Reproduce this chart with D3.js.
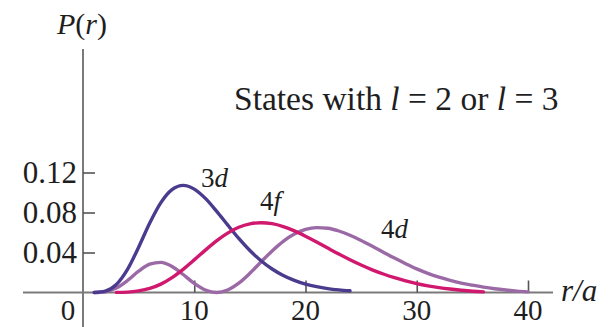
<!DOCTYPE html>
<html>
<head>
<meta charset="utf-8">
<script src="https://cdn.jsdelivr.net/npm/d3@7/dist/d3.min.js"></script>
<style>
  html, body { margin: 0; padding: 0; background: #fff; }
  svg { display: block; font-family: "Liberation Serif", "Times New Roman", serif; }
</style>
</head>
<body>
<svg id="chart" width="610" height="327"></svg>
<script>
// Radial probability densities P(r) for hydrogen states with l = 2 or l = 3
const r3d = [1,2,3,4,5,6,7,8,9,10,11,12,13,14,15,16,17,18,19,20,21,22,23,24];
const p3d = [0.0000,0.0014,0.0080,0.0231,0.0453,0.0695,0.0899,0.1029,0.1071,0.1034,0.0941,0.0814,
             0.0676,0.0541,0.0420,0.0318,0.0235,0.0170,0.0121,0.0084,0.0058,0.0039,0.0026,0.0017];

const r4f = [3,4,5,6,7,8,9,10,11,12,13,14,15,16,17,18,19,20,21,22,23,24,25,26,27,28,29,30,31,32,33,34,35,36];
const p4f = [0.0001,0.0004,0.0016,0.0041,0.0084,0.0149,0.0232,0.0326,0.0424,0.0516,0.0594,0.0652,
             0.0687,0.0698,0.0688,0.0659,0.0616,0.0563,0.0505,0.0444,0.0384,0.0328,0.0275,0.0227,
             0.0185,0.0148,0.0116,0.0088,0.0066,0.0049,0.0035,0.0023,0.0013,0.0006];

const r4d = [1,2,3,4,5,6,7,8,9,10,11,12,13,14,15,16,17,18,19,20,21,22,23,24,25,26,27,28,29,30,
             31,32,33,34,35,36,37,38,39,40];
const p4d = [0.0000,0.0008,0.0045,0.0120,0.0213,0.0284,0.0301,0.0260,0.0180,0.0091,0.0025,0.0000,
             0.0025,0.0093,0.0192,0.0305,0.0416,0.0512,0.0585,0.0631,0.0649,0.0642,0.0615,0.0573,
             0.0521,0.0463,0.0403,0.0344,0.0288,0.0236,0.0191,0.0153,0.0121,0.0094,0.0073,0.0054,
             0.0038,0.0025,0.0014,0.0006];

const xTicks = [10, 20, 30, 40];
const yTicks = [0.04, 0.08, 0.12];
const yTickLabels = ["0.04", "0.08", "0.12"];

const svg = d3.select("#chart");
const axisColor = "#7a7a7a";
const textColor = "#1e1e1e";

const x = d3.scaleLinear().domain([0, 40]).range([83, 528]);
const y = d3.scaleLinear().domain([0, 0.12]).range([292.5, 172.5]);

// axis lines
svg.append("line")
  .attr("x1", 23).attr("x2", 553)
  .attr("y1", y(0)).attr("y2", y(0))
  .attr("stroke", axisColor).attr("stroke-width", 2);
svg.append("line")
  .attr("x1", x(0)).attr("x2", x(0))
  .attr("y1", 49).attr("y2", 327)
  .attr("stroke", axisColor).attr("stroke-width", 2);

// x ticks point upward from the axis
const xAxis = d3.axisTop(x).tickValues(xTicks).tickSize(12).tickFormat("");
const gx = svg.append("g").attr("transform", `translate(0,${y(0)})`).call(xAxis);
gx.select(".domain").remove();
gx.selectAll(".tick line").attr("stroke", "#555").attr("stroke-width", 1.6);

// y ticks point right into the plot
const yAxis = d3.axisRight(y).tickValues(yTicks).tickSize(12).tickFormat("");
const gy = svg.append("g").attr("transform", `translate(${x(0)},0)`).call(yAxis);
gy.select(".domain").remove();
gy.selectAll(".tick line").attr("stroke", "#555").attr("stroke-width", 1.6);

// tick labels
svg.selectAll(".xlab").data(xTicks).enter().append("text")
  .attr("class", "xlab")
  .attr("x", d => x(d)).attr("y", 320)
  .attr("text-anchor", "middle")
  .attr("font-size", 29).attr("fill", textColor)
  .text(d => d);
svg.append("text")
  .attr("x", 68).attr("y", 320)
  .attr("text-anchor", "middle")
  .attr("font-size", 29).attr("fill", textColor)
  .text("0");
svg.selectAll(".ylab").data(yTicks).enter().append("text")
  .attr("class", "ylab")
  .attr("x", 77).attr("y", d => y(d) + 10)
  .attr("text-anchor", "end")
  .attr("font-size", 31).attr("fill", textColor)
  .text((d, i) => yTickLabels[i]);

// axis titles
const pt = svg.append("text").attr("x", 57).attr("y", 34)
  .attr("font-size", 30).attr("fill", textColor);
pt.append("tspan").attr("font-style", "italic").text("P");
pt.append("tspan").text("(");
pt.append("tspan").attr("font-style", "italic").text("r");
pt.append("tspan").text(")");

svg.append("text").attr("x", 561).attr("y", 301)
  .attr("font-size", 31).attr("font-style", "italic").attr("fill", textColor)
  .text("r/a");

// heading
const ht = svg.append("text").attr("x", 234).attr("y", 110)
  .attr("font-size", 33.5).attr("fill", textColor).attr("xml:space", "preserve");
ht.append("tspan").text("States with ");
ht.append("tspan").attr("font-style", "italic").text("l");
ht.append("tspan").text(" = 2 or ");
ht.append("tspan").attr("font-style", "italic").text("l");
ht.append("tspan").text(" = 3");

// curves
const line = d3.line()
  .x(d => x(d[0])).y(d => y(d[1]))
  .curve(d3.curveMonotoneX);

const series = [
  { r: r4d, p: p4d, color: "#9b6aa6" },
  { r: r3d, p: p3d, color: "#4b3b8e" },
  { r: r4f, p: p4f, color: "#d0186f" }
];
series.forEach(s => {
  svg.append("path")
    .datum(s.r.map((rv, i) => [rv, s.p[i]]))
    .attr("d", line)
    .attr("fill", "none")
    .attr("stroke", s.color)
    .attr("stroke-width", 3.4)
    .attr("stroke-linejoin", "round")
    .attr("stroke-linecap", "round");
});

// curve labels
function stateLabel(px, py, n, l) {
  const t = svg.append("text").attr("x", px).attr("y", py)
    .attr("font-size", 27).attr("fill", textColor);
  t.append("tspan").text(n);
  t.append("tspan").attr("font-style", "italic").text(l);
}
stateLabel(201, 187, "3", "d");
stateLabel(260, 210, "4", "f");
stateLabel(381, 238, "4", "d");
</script>
</body>
</html>
